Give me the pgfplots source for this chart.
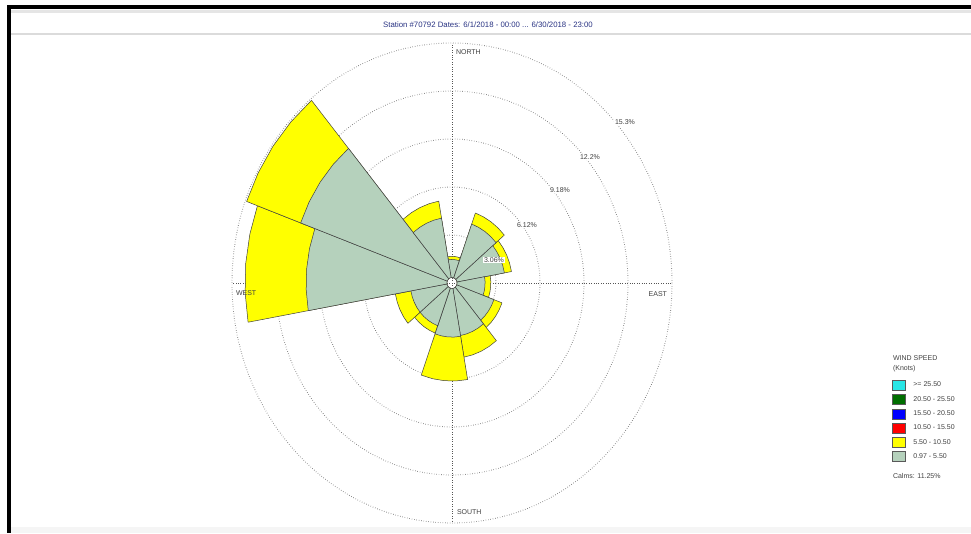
\documentclass[border=0pt]{standalone}
\usepackage{fontspec}
\setmainfont{Liberation Sans}
\usepackage{pgfplots}
\usepackage{pgfplotstable}
\pgfplotsset{compat=1.18}
\usepgfplotslibrary{polar}

\definecolor{calmgreen}{RGB}{181,209,188}
\definecolor{roseyellow}{RGB}{255,255,0}
\definecolor{titleblue}{RGB}{40,50,130}
\definecolor{gridgray}{RGB}{85,85,85}
\definecolor{legdkgreen}{RGB}{0,110,0}
\definecolor{legcyan}{RGB}{40,230,230}

% dir = compass centre of the 30 deg sector, g = 0.97-5.50 kn, y = up to 10.50 kn (cumulative %)
\pgfplotstableread{
dir g y
5 1.50 1.70
35 4.00 4.75
65 3.70 4.20
95 2.30 2.70
125 3.10 3.70
155 3.40 4.80
185 3.45 6.25
215 2.90 3.40
245 2.90 4.00
275 10.15 14.40
305 11.20 15.20
335 4.20 5.30
}\rose

\def\rzero{0.35}
\pgfplotsset{
  yfill/.style={fill=roseyellow, draw=black!75, line width=0.5pt, line join=round},
  gfill/.style={fill=calmgreen, draw=black!75, line width=0.5pt, line join=round},
}
% #1 compass dir, #2 radius, #3 style name
\newcommand\sector[3]{%
  \pgfmathsetmacro\aa{75-#1}%
  \pgfmathsetmacro\ab{82.5-#1}%
  \pgfmathsetmacro\ac{90-#1}%
  \pgfmathsetmacro\ad{97.5-#1}%
  \pgfmathsetmacro\ae{105-#1}%
  \edef\temp{\noexpand\addplot[#3] coordinates {(\aa,\rzero) (\aa,#2) (\ab,#2) (\ac,#2) (\ad,#2) (\ae,#2) (\ae,\rzero) (\ad,\rzero) (\ac,\rzero) (\ab,\rzero)} -- cycle;}%
  \temp
}

\begin{document}
\begin{tikzpicture}
\useasboundingbox (0,0) rectangle (971pt,533pt);
\fill[black!4] (11pt,0) rectangle (971pt,6pt);
\fill[black] (7pt,0) rectangle (11pt,528pt);
\fill[black] (7pt,524pt) rectangle (971pt,528pt);
\fill[black!10] (11pt,520pt) rectangle (971pt,523pt);
\fill[black!14] (11pt,498pt) rectangle (971pt,500pt);

\begin{polaraxis}[
  at={(452pt,250pt)}, anchor=origin,
  scale only axis, width=440pt, height=480pt, scale mode=stretch to fill,
  xmin=0, xmax=360, ymin=0, ymax=15.3,
  xtick={0,90,180,270}, ytick={3.06,6.12,9.18,12.24,15.3},
  xticklabels={}, yticklabels={},
  major tick length=0pt,
  grid=major, grid style={dotted, line width=0.9pt, gridgray},
  axis line style={draw=none},
  legend cell align=left,
  legend image code/.code={\draw[#1, draw=black!65, line width=0.4pt] (0pt,-5pt) rectangle (13pt,5pt);},
  legend style={at={(1.5,0.298)}, anchor=north west, draw=none, fill=none,
    inner sep=0pt, outer sep=0pt, row sep=3.9pt,
    nodes={inner sep=0pt, font=\fontsize{7}{8}\selectfont, text=black!75},
    /tikz/every odd column/.append style={column sep=8pt}},
]
\addlegendimage{fill=legcyan}\addlegendentry{>= 25.50}
\addlegendimage{fill=legdkgreen}\addlegendentry{20.50 - 25.50}
\addlegendimage{fill=blue}\addlegendentry{15.50 - 20.50}
\addlegendimage{fill=red}\addlegendentry{10.50 - 15.50}
\addlegendimage{fill=roseyellow}\addlegendentry{5.50 - 10.50}
\addlegendimage{fill=calmgreen}\addlegendentry{0.97 - 5.50}

\pgfplotsinvokeforeach{0,...,11}{
  \pgfplotstablegetelem{#1}{dir}\of\rose \let\sdir\pgfplotsretval
  \pgfplotstablegetelem{#1}{y}\of\rose \let\srad\pgfplotsretval
  \sector{\sdir}{\srad}{yfill}
}
\pgfplotsinvokeforeach{0,...,11}{
  \pgfplotstablegetelem{#1}{dir}\of\rose \let\sdir\pgfplotsretval
  \pgfplotstablegetelem{#1}{g}\of\rose \let\srad\pgfplotsretval
  \sector{\sdir}{\srad}{gfill}
}
\end{polaraxis}

\begin{scope}[every node/.style={font=\fontsize{7}{8}\selectfont, text=black!75, inner sep=0.8pt}]
\node[text=titleblue, font=\fontsize{7.8}{9}\selectfont] at (488pt,508pt) {Station \#70792 Dates: 6/1/2018 - 00:00 ... 6/30/2018 - 23:00};
\node[anchor=west] at (455pt,481pt) {NORTH};
\node[anchor=west] at (235pt,240pt) {WEST};
\node[anchor=east] at (668pt,239pt) {EAST};
\node[anchor=west] at (456pt,21pt) {SOUTH};
\node[fill=white] at (625pt,411pt) {15.3\%};
\node[fill=white] at (590pt,376pt) {12.2\%};
\node[fill=white] at (560pt,343pt) {9.18\%};
\node[fill=white] at (527pt,308pt) {6.12\%};
\node[fill=white] at (494pt,273pt) {3.06\%};
\node[anchor=west] at (892pt,175pt) {WIND SPEED};
\node[anchor=west] at (892pt,164pt) {(Knots)};
\node[anchor=west] at (892pt,57pt) {Calms: 11.25\%};
\end{scope}
\end{tikzpicture}
\end{document}
